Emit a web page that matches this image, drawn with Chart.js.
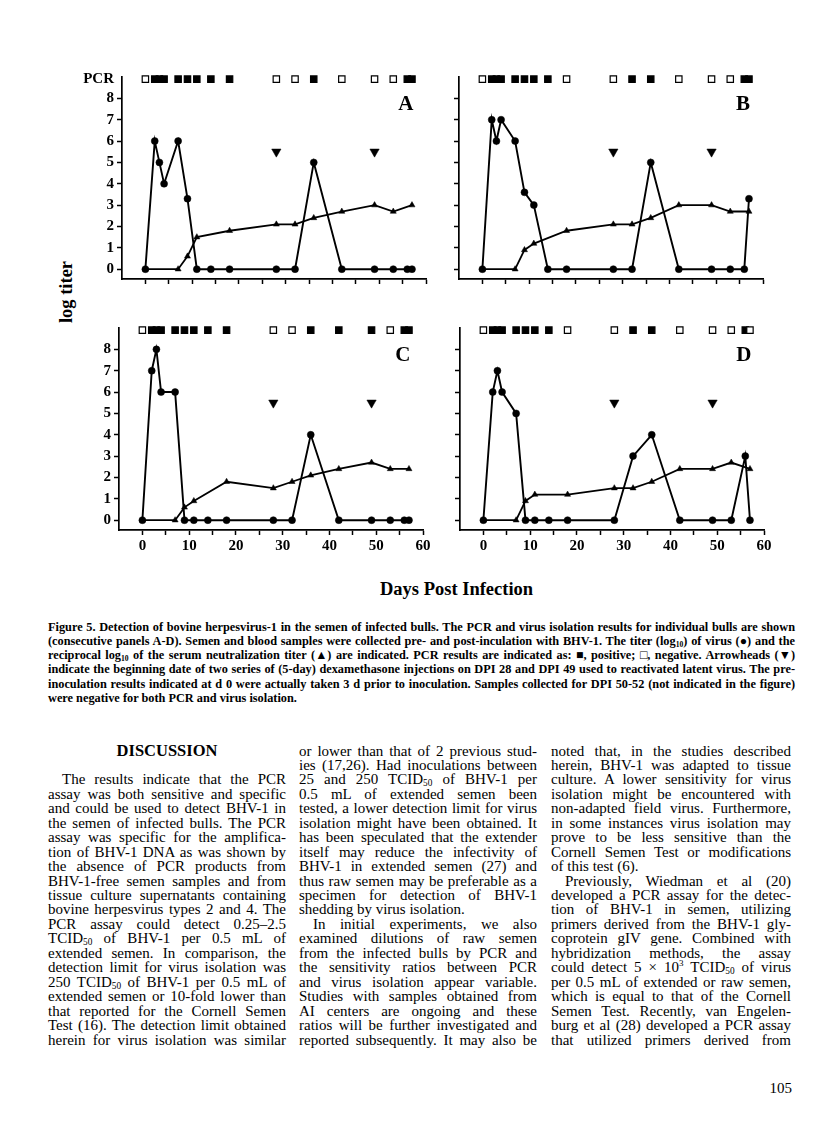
<!DOCTYPE html>
<html>
<head>
<meta charset="utf-8">
<script src="https://cdn.jsdelivr.net/npm/chart.js@4.4.0/dist/chart.umd.min.js"></script>
<style>
  body { margin: 0; background: #fff; }
  #page { position: relative; width: 816px; height: 1125px; overflow: hidden;
          font-family: "Liberation Serif", "Times New Roman", serif; color: #000; }
  canvas { position: absolute; }
  .ln { position: absolute; white-space: nowrap; height: 15px; line-height: 15px; }
  .ln sub { font-size: 0.62em; line-height: 0; vertical-align: -0.25em; }
  .cap { font-weight: bold; font-size: 12.3px; }
  .body { font-size: 15px; }
  .lab { position: absolute; font-weight: bold; font-size: 18.5px; white-space: nowrap; line-height: 20px; }
</style>
</head>
<body>
<div id="page">
  <canvas id="pA" width="358" height="244" style="left:82px;top:65px"></canvas>
  <canvas id="pB" width="358" height="244" style="left:419px;top:65px"></canvas>
  <canvas id="pC" width="358" height="244" style="left:79px;top:316px"></canvas>
  <canvas id="pD" width="358" height="244" style="left:420px;top:316px"></canvas>
  <div class="lab" style="left:66px;top:292px;transform:translate(-50%,-50%) rotate(-90deg);">log titer</div>
  <div class="lab" style="left:380px;top:579px;">Days Post Infection</div>
  <div id="text"></div>
</div>
<script>
// sampling days (DPI)
const days = [0, 2, 3, 4, 7, 9, 11, 14, 18, 28, 32, 36, 42, 49, 53, 56, 57];

// virus titer (log10), SN titer (log10, null = not sampled), PCR (1 = positive, 0 = negative)
const virusA = [0, 6, 5, 4, 6, 3.3, 0, 0, 0, 0, 0, 5, 0, 0, 0, 0, 0];
const snA    = [0, null, null, null, 0, 0.6, 1.5, null, 1.8, 2.1, 2.1, 2.4, 2.7, 3.0, 2.7, null, 3.0];
const pcrA   = [0, 1, 1, 1, 1, 1, 1, 1, 1, 0, 0, 1, 0, 0, 0, 1, 1];

const virusB = [0, 7, 6, 7, 6, 3.6, 3.0, 0, 0, 0, 0, 5, 0, 0, 0, 0, 3.3];
const snB    = [0, null, null, null, 0, 0.9, 1.2, null, 1.8, 2.1, 2.1, 2.4, 3.0, 3.0, 2.7, null, 2.7];
const pcrB   = [0, 1, 1, 1, 1, 1, 1, 1, 0, 0, 1, 1, 0, 0, 0, 1, 1];

const virusC = [0, 7, 8, 6, 6, 0, 0, 0, 0, 0, 0, 4, 0, 0, 0, 0, 0];
const snC    = [0, null, null, null, 0, 0.6, 0.9, null, 1.8, 1.5, 1.8, 2.1, 2.4, 2.7, 2.4, null, 2.4];
const pcrC   = [0, 1, 1, 1, 1, 1, 1, 1, 1, 0, 0, 1, 1, 1, 0, 1, 1];

const virusD = [0, 6, 7, 6, 5, 0, 0, 0, 0, 0, 3, 4, 0, 0, 0, 3, 0];
const snD    = [0, null, null, null, 0, 0.9, 1.2, null, 1.2, 1.5, 1.5, 1.8, 2.4, 2.4, 2.7, null, 2.4];
const pcrD   = [0, 1, 1, 1, 1, 1, 1, 1, 0, 0, 1, 1, 0, 0, 0, 1, 0];

// dexamethasone series start days (arrowheads)
const dexDays = [28, 49];

const xTicks = [0, 5, 10, 15, 20, 25, 30, 35, 40, 45, 50, 55, 60];
const yTicks = [0, 1, 2, 3, 4, 5, 6, 7, 8];

const PCR_ROW = 8.9;   // height of the PCR marker row
const ARROW_Y = 5.5;   // height of the arrowheads

const serif = 'Liberation Serif';

// panel letter (A-D) drawn in data space near upper right
const letterPlugin = {
  id: 'panelLetter',
  afterDatasetsDraw(chart, args, opts) {
    const { ctx, scales: { x, y } } = chart;
    ctx.save();
    ctx.font = 'bold 21px "' + serif + '"';
    ctx.fillStyle = '#000';
    ctx.textAlign = 'center';
    ctx.textBaseline = 'middle';
    ctx.fillText(opts.text, x.getPixelForValue(55.7), y.getPixelForValue(7.7));
    ctx.restore();
  }
};

function panel(id, virus, sn, pcr, letter, yLabels, pcrLabel, xLabels) {
  const ctx = document.getElementById(id).getContext('2d');
  return new Chart(ctx, {
    type: 'scatter',
    data: {
      datasets: [
        {
          label: 'SN titer',
          data: days.map((d, i) => ({ x: d, y: sn[i] })).filter(p => p.y !== null),
          showLine: true,
          borderColor: '#000',
          borderWidth: 1.8,
          pointStyle: 'triangle',
          pointRadius: 3.5,
          pointBackgroundColor: '#000',
          pointBorderColor: '#000',
          pointBorderWidth: 0.5,
          clip: false
        },
        {
          label: 'Virus titer',
          data: days.map((d, i) => ({ x: d, y: virus[i] })),
          showLine: true,
          borderColor: '#000',
          borderWidth: 1.9,
          pointStyle: 'circle',
          pointRadius: 3.5,
          pointBackgroundColor: '#000',
          pointBorderColor: '#000',
          pointBorderWidth: 0.5,
          clip: false
        },
        {
          label: 'PCR',
          data: days.map(d => ({ x: d, y: PCR_ROW })),
          pointStyle: 'rect',
          pointRadius: 4.5,
          pointBackgroundColor: pcr.map(v => v ? '#000' : '#fff'),
          pointBorderColor: '#000',
          pointBorderWidth: 1.2,
          clip: false
        },
        {
          label: 'Dexamethasone',
          data: dexDays.map(d => ({ x: d, y: ARROW_Y })),
          pointStyle: 'triangle',
          rotation: 180,
          pointRadius: 5.4,
          pointBackgroundColor: '#000',
          pointBorderColor: '#000',
          pointBorderWidth: 0.5,
          clip: false
        }
      ]
    },
    options: {
      responsive: false,
      animation: false,
      layout: { padding: { top: 10, right: 14, left: 0, bottom: 0 } },
      plugins: {
        legend: { display: false },
        tooltip: { enabled: false },
        panelLetter: { text: letter }
      },
      scales: {
        x: {
          type: 'linear',
          min: -5,
          max: 60,
          afterBuildTicks: s => { s.ticks = xTicks.map(v => ({ value: v })); },
          afterFit: s => { s.height = 30; },
          border: { color: '#000', width: 1.7 },
          grid: { drawOnChartArea: false, tickLength: 5, tickColor: '#000', tickWidth: 1.5 },
          ticks: {
            autoSkip: false,
            maxRotation: 0,
            color: '#000',
            padding: 2,
            font: { family: serif, size: 15, weight: 'bold' },
            callback: v => (xLabels && v % 10 === 0) ? String(v) : ''
          }
        },
        y: {
          min: -0.46,
          max: 9,
          afterBuildTicks: s => { s.ticks = yTicks.concat([PCR_ROW]).map(v => ({ value: v })); },
          afterFit: s => { s.width = 40; },
          border: { color: '#000', width: 1.7 },
          grid: {
            drawOnChartArea: false,
            tickLength: 5,
            tickWidth: 1.5,
            tickColor: c => (c.tick && c.tick.value === PCR_ROW) ? 'rgba(0,0,0,0)' : '#000'
          },
          ticks: {
            autoSkip: false,
            color: '#000',
            padding: 3,
            font: { family: serif, size: 15, weight: 'bold' },
            callback: v => {
              if (v === PCR_ROW) return pcrLabel ? 'PCR' : '';
              return yLabels ? String(v) : '';
            }
          }
        }
      }
    },
    plugins: [letterPlugin]
  });
}

panel('pA', virusA, snA, pcrA, 'A', true, true, false);
panel('pB', virusB, snB, pcrB, 'B', false, false, false);
panel('pC', virusC, snC, pcrC, 'C', true, false, true);
panel('pD', virusD, snD, pcrD, 'D', false, false, true);

// ---- caption and body text (one entry per printed line) ----
// '>' = indented first line, '|' at the end = last line of a paragraph
const captionLines = [
  'Figure 5. Detection of bovine herpesvirus-1 in the semen of infected bulls. The PCR and virus isolation results for individual bulls are shown',
  '(consecutive panels A-D). Semen and blood samples were collected pre- and post-inculation with BHV-1. The titer (log<sub>10</sub>) of virus (\u25CF) and the',
  'reciprocal log<sub>10</sub> of the serum neutralization titer (\u25B2) are indicated. PCR results are indicated as: \u25A0, positive; \u25A1, negative. Arrowheads (\u25BC)',
  'indicate the beginning date of two series of (5-day) dexamethasone injections on DPI 28 and DPI 49 used to reactivated latent virus. The pre-',
  'inoculation results indicated at d 0 were actually taken 3 d prior to inoculation. Samples collected for DPI 50-52 (not indicated in the figure)',
  'were negative for both PCR and virus isolation.|'
];

const col1 = [
  '>The results indicate that the PCR',
  'assay was both sensitive and specific',
  'and could be used to detect BHV-1 in',
  'the semen of infected bulls. The PCR',
  'assay was specific for the amplifica-',
  'tion of BHV-1 DNA as was shown by',
  'the absence of PCR products from',
  'BHV-1-free semen samples and from',
  'tissue culture supernatants containing',
  'bovine herpesvirus types 2 and 4. The',
  'PCR assay could detect 0.25\u20132.5',
  'TCID<sub>50</sub> of BHV-1 per 0.5 mL of',
  'extended semen. In comparison, the',
  'detection limit for virus isolation was',
  '250 TCID<sub>50</sub> of BHV-1 per 0.5 mL of',
  'extended semen or 10-fold lower than',
  'that reported for the Cornell Semen',
  'Test (16). The detection limit obtained',
  'herein for virus isolation was similar'
];

const col2 = [
  'or lower than that of 2 previous stud-',
  'ies (17,26). Had inoculations between',
  '25 and 250 TCID<sub>50</sub> of BHV-1 per',
  '0.5 mL of extended semen been',
  'tested, a lower detection limit for virus',
  'isolation might have been obtained. It',
  'has been speculated that the extender',
  'itself may reduce the infectivity of',
  'BHV-1 in extended semen (27) and',
  'thus raw semen may be preferable as a',
  'specimen for detection of BHV-1',
  'shedding by virus isolation.|',
  '>In initial experiments, we also',
  'examined dilutions of raw semen',
  'from the infected bulls by PCR and',
  'the sensitivity ratios between PCR',
  'and virus isolation appear variable.',
  'Studies with samples obtained from',
  'AI centers are ongoing and these',
  'ratios will be further investigated and',
  'reported subsequently. It may also be'
];

const col3 = [
  'noted that, in the studies described',
  'herein, BHV-1 was adapted to tissue',
  'culture. A lower sensitivity for virus',
  'isolation might be encountered with',
  'non-adapted field virus. Furthermore,',
  'in some instances virus isolation may',
  'prove to be less sensitive than the',
  'Cornell Semen Test or modifications',
  'of this test (6).|',
  '>Previously, Wiedman et al (20)',
  'developed a PCR assay for the detec-',
  'tion of BHV-1 in semen, utilizing',
  'primers derived from the BHV-1 gly-',
  'coprotein gIV gene. Combined with',
  'hybridization methods, the assay',
  'could detect 5 \u00D7 10<sup style="font-size:0.6em;line-height:0">3</sup> TCID<sub>50</sub> of virus',
  'per 0.5 mL of extended or raw semen,',
  'which is equal to that of the Cornell',
  'Semen Test. Recently, van Engelen-',
  'burg et al (28) developed a PCR assay',
  'that utilized primers derived from'
];

const host = document.getElementById('text');

function addLine(html, cls, left, width, centerY, indent) {
  let last = false;
  if (html.startsWith('>')) html = html.slice(1);
  if (html.endsWith('|')) { html = html.slice(0, -1); last = true; }
  const el = document.createElement('div');
  el.className = 'ln ' + cls;
  el.style.left = (left + indent) + 'px';
  el.style.top = (centerY - 7.5) + 'px';
  const sp = document.createElement('span');
  sp.innerHTML = html;
  el.appendChild(sp);
  host.appendChild(el);
  const target = width - indent;
  const w = sp.getBoundingClientRect().width;
  if (w > target) {
    sp.style.letterSpacing = ((target - w) / Math.max(1, sp.textContent.length - 1)) + 'px';
  } else if (!last) {
    const n = (sp.textContent.match(/ /g) || []).length;
    if (n) sp.style.wordSpacing = ((target - w) / n) + 'px';
  }
}

captionLines.forEach((t, i) => addLine(t, 'cap', 48, 747, 627 + i * 14.3, 0));

const LH = 14.45, TOP = 751;
const COL_W = 238;
col1.forEach((t, i) => addLine(t, 'body', 48, COL_W, TOP + (i + 2) * LH, t.startsWith('>') ? 14 : 0));
col2.forEach((t, i) => addLine(t, 'body', 299, COL_W, TOP + i * LH, t.startsWith('>') ? 14 : 0));
col3.forEach((t, i) => addLine(t, 'body', 551, COL_W + 2, TOP + i * LH, t.startsWith('>') ? 14 : 0));

const head = document.createElement('div');
head.className = 'ln';
head.style.cssText = 'left:48px;width:' + COL_W + 'px;text-align:center;top:' + (TOP - 8) + 'px;font-weight:bold;font-size:16.5px;';
head.textContent = 'DISCUSSION';
host.appendChild(head);

const pg = document.createElement('div');
pg.className = 'ln body';
pg.style.cssText = 'right:24px;top:1081px;font-size:15px;';
pg.textContent = '105';
host.appendChild(pg);
</script>
</body>
</html>
